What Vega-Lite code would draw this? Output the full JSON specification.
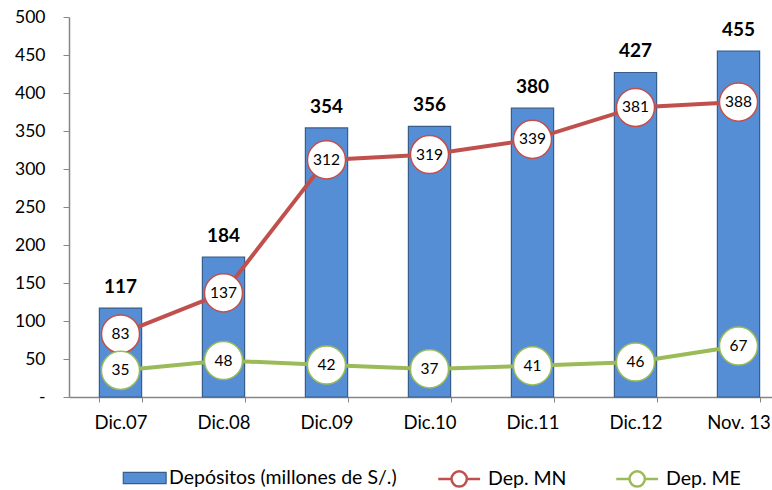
{
  "$schema": "https://vega.github.io/schema/vega-lite/v6.json",
  "autosize": "none",
  "width": 703,
  "height": 380,
  "padding": {"left": 69, "top": 17, "right": 0, "bottom": 93},
  "background": "white",
  "config": {
    "view": {"stroke": null},
    "font": "Lato",
    "axis": {"labelFont": "Lato", "labelColor": "#000000", "domainColor": "#868686", "tickColor": "#868686", "grid": false, "title": null},
    "legend": {"labelFont": "Lato", "labelFontSize": 19.5, "labelColor": "#000000", "labelLimit": 0, "padding": 0}
  },
  "resolve": {"scale": {"color": "independent"}, "legend": {"color": "independent"}},
  "datasets": {
    "dep": [
      {"periodo": "Dic.07", "valor": 117},
      {"periodo": "Dic.08", "valor": 184},
      {"periodo": "Dic.09", "valor": 354},
      {"periodo": "Dic.10", "valor": 356},
      {"periodo": "Dic.11", "valor": 380},
      {"periodo": "Dic.12", "valor": 427},
      {"periodo": "Nov. 13", "valor": 455}
    ],
    "lineas": [
      {"periodo": "Dic.07", "serie": "Dep. MN", "valor": 83},
      {"periodo": "Dic.08", "serie": "Dep. MN", "valor": 137},
      {"periodo": "Dic.09", "serie": "Dep. MN", "valor": 312},
      {"periodo": "Dic.10", "serie": "Dep. MN", "valor": 319},
      {"periodo": "Dic.11", "serie": "Dep. MN", "valor": 339},
      {"periodo": "Dic.12", "serie": "Dep. MN", "valor": 381},
      {"periodo": "Nov. 13", "serie": "Dep. MN", "valor": 388},
      {"periodo": "Dic.07", "serie": "Dep. ME", "valor": 35},
      {"periodo": "Dic.08", "serie": "Dep. ME", "valor": 48},
      {"periodo": "Dic.09", "serie": "Dep. ME", "valor": 42},
      {"periodo": "Dic.10", "serie": "Dep. ME", "valor": 37},
      {"periodo": "Dic.11", "serie": "Dep. ME", "valor": 41},
      {"periodo": "Dic.12", "serie": "Dep. ME", "valor": 46},
      {"periodo": "Nov. 13", "serie": "Dep. ME", "valor": 67}
    ]
  },
  "encoding": {
    "x": {
      "field": "periodo", "type": "nominal",
      "sort": ["Dic.07", "Dic.08", "Dic.09", "Dic.10", "Dic.11", "Dic.12", "Nov. 13"],
      "scale": {"range": [0, 721], "paddingInner": 0.59, "paddingOuter": 0.295},
      "axis": {"labelAngle": 0, "labelFontSize": 18.5, "tickBand": "extent", "tickSize": 5, "labelPadding": 11, "domainWidth": 1.5}
    },
    "y": {
      "field": "valor", "type": "quantitative",
      "scale": {"domain": [0, 500], "nice": false},
      "axis": {"values": [0, 50, 100, 150, 200, 250, 300, 350, 400, 450, 500], "labelExpr": "datum.value === 0 ? '-' : datum.label", "labelFontSize": 17.5, "tickSize": 6, "labelPadding": 18, "domainWidth": 1.5}
    }
  },
  "layer": [
    {
      "data": {"name": "dep"},
      "mark": {"type": "bar", "stroke": "#385D8A", "strokeWidth": 1.2},
      "encoding": {
        "color": {
          "datum": "Depósitos (millones de S/.)",
          "scale": {"domain": ["Depósitos (millones de S/.)"], "range": ["#558ED5"]},
          "legend": {
            "title": null,
            "orient": "none",
            "legendX": 54,
            "legendY": 450,
            "direction": "horizontal",
            "symbolType": "M-1.05,-0.55H3.15V0.55H-1.05Z",
            "symbolSize": 416,
            "symbolStrokeColor": "#385D8A",
            "symbolStrokeWidth": 1.2,
            "symbolOpacity": 1,
            "labelOffset": 24
          }
        }
      }
    },
    {
      "data": {"name": "dep"},
      "mark": {"type": "text", "fontWeight": "bold", "fontSize": 19, "dy": -15, "baseline": "alphabetic", "font": "Lato", "color": "#000000"},
      "encoding": {"text": {"field": "valor", "type": "quantitative"}}
    },
    {
      "data": {"name": "lineas"},
      "mark": {"type": "line", "strokeWidth": 4},
      "encoding": {
        "color": {
          "field": "serie", "type": "nominal",
          "scale": {"domain": ["Dep. MN", "Dep. ME"], "range": ["#C0504D", "#9BBB59"]},
          "legend": {
            "title": null,
            "orient": "none",
            "legendX": 369,
            "legendY": 450,
            "direction": "horizontal",
            "symbolType": "M-1.1,0H0.2A0.75,0.75 0 1 1 1.7,0H3M1.7,0A0.75,0.75 0 1 1 0.2,0",
            "symbolSize": 416,
            "symbolFillColor": "#ffffff",
            "symbolStrokeWidth": 2.5,
            "symbolOpacity": 1,
            "labelOffset": 27,
            "columnPadding": 44,
            "encode": {"symbols": {"update": {"fill": {"value": "#ffffff"}, "fillOpacity": {"value": 1}}}}
          }
        }
      }
    },
    {
      "data": {"name": "lineas"},
      "mark": {"type": "point", "shape": "circle", "filled": true, "fill": "#ffffff", "size": 1450, "strokeWidth": 1.5, "opacity": 1},
      "encoding": {
        "stroke": {
          "field": "serie", "type": "nominal",
          "scale": {"domain": ["Dep. MN", "Dep. ME"], "range": ["#C0504D", "#9BBB59"]},
          "legend": null
        },
        "detail": {"field": "serie"}
      }
    },
    {
      "data": {"name": "lineas"},
      "mark": {"type": "text", "fontSize": 15.5, "baseline": "middle", "font": "Lato", "color": "#000000"},
      "encoding": {"text": {"field": "valor", "type": "quantitative"}}
    }
  ]
}
